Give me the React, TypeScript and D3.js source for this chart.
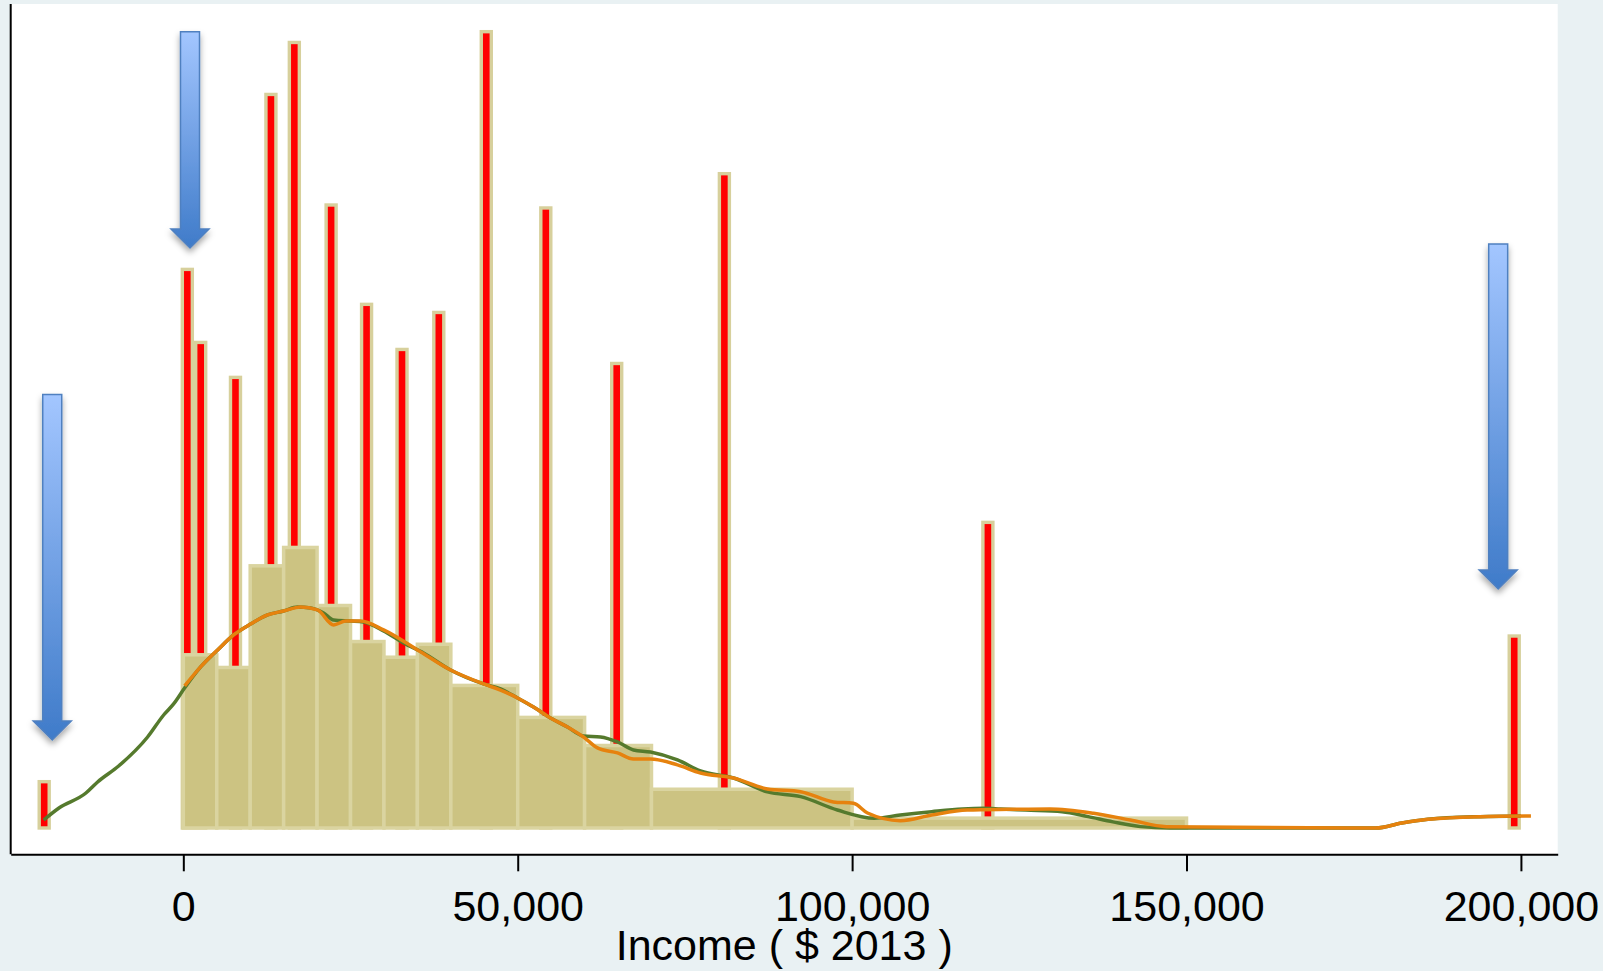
import React, { useRef, useEffect } from 'react';
import * as d3 from 'd3';

// histogram of positive incomes (bin edges in $, density x 1e-5)
const histBinEdges = [0, 5000, 10000, 15000, 20000, 25000, 30000, 35000, 40000, 50000, 60000, 70000, 100000, 150000];
const histDensity = [1.283, 1.189, 1.942, 2.078, 1.648, 1.381, 1.265, 1.361, 1.056, 0.819, 0.611, 0.287, 0.073];

// heaping points (spikes)
const spikeIncome = [-20800, 600, 2600, 7800, 13100, 16600, 22100, 27400, 32700, 38200, 45300, 54200, 64800, 80900, 120300, 199000];
const spikeHeight = [0.343, 4.138, 3.597, 3.338, 5.434, 5.819, 4.615, 3.879, 3.545, 3.819, 5.899, 4.593, 3.441, 4.847, 2.264, 1.422];

// kernel density, all incomes (green)
const allIncome = [-20880, -18590, -14560, -12810, -9670, -5340, -2940, -1450, 190, 2590, 5130, 7520, 10060, 12600, 14990, 17080, 19030, 20970, 22470, 25000, 26940, 29940, 32930, 35920, 39960, 44890, 47430, 49970, 52360, 54900, 57440, 59840, 62380, 64920, 67310, 69850, 73890, 77330, 82260, 87340, 92300, 97800, 103300, 107200, 111900, 116500, 119700, 122200, 126000, 131400, 135300, 139000, 143100, 147500, 178300, 182200, 186100, 193900, 200000];
const allDensity = [0.059, 0.148, 0.259, 0.341, 0.459, 0.674, 0.837, 0.919, 1.037, 1.193, 1.319, 1.430, 1.511, 1.578, 1.607, 1.637, 1.630, 1.593, 1.541, 1.533, 1.526, 1.459, 1.370, 1.296, 1.170, 1.067, 1.030, 0.963, 0.896, 0.815, 0.748, 0.681, 0.674, 0.637, 0.578, 0.563, 0.504, 0.422, 0.370, 0.267, 0.232, 0.133, 0.072, 0.096, 0.121, 0.141, 0.146, 0.141, 0.133, 0.121, 0.084, 0.045, 0.010, 0, 0, 0.037, 0.064, 0.084, 0.089];

// kernel density, positive incomes (orange)
const posIncome = [200, 2590, 5130, 7520, 10060, 12600, 14990, 17530, 20070, 22470, 24260, 26500, 29940, 35020, 39960, 44890, 47430, 49970, 52360, 54900, 57440, 59840, 61930, 64920, 67310, 69850, 73890, 77330, 82260, 87340, 92300, 97200, 100200, 102300, 107200, 111900, 117200, 123600, 129600, 136100, 141600, 147000, 178300, 182200, 186100, 193900, 201500];
const posDensity = [1.052, 1.193, 1.319, 1.430, 1.511, 1.578, 1.607, 1.637, 1.615, 1.504, 1.533, 1.533, 1.467, 1.319, 1.170, 1.067, 1.022, 0.963, 0.896, 0.815, 0.748, 0.674, 0.593, 0.556, 0.511, 0.511, 0.467, 0.407, 0.370, 0.289, 0.269, 0.193, 0.183, 0.111, 0.054, 0.096, 0.133, 0.138, 0.141, 0.109, 0.059, 0.010, 0, 0.037, 0.064, 0.084, 0.089];

const xTicks = [0, 50000, 100000, 150000, 200000];
const xTitle = 'Income ( $ 2013 )';

// annotation arrows: income position, top and tip (density units)
const arrowIncome = [-19600, 1000, 196600];
const arrowTop = [3.211, 5.899, 4.326];
const arrowTip = [0.652, 4.296, 1.770];

const W = 1617;
const H = 971;

const Chart: React.FC = () => {
    const svgRef = useRef<SVGSVGElement | null>(null);

    useEffect(() => {
        if (!svgRef.current) return;
        const svg = d3.select(svgRef.current);
        svg.selectAll("*").remove();

        const plot = { left: 10.7, right: 1557.7, top: 4, bottom: 854.3 };

        const x = d3.scaleLinear().domain([-25810, 205500]).range([plot.left, plot.right]);
        const y = d3.scaleLinear().domain([-0.195, 6.104]).range([plot.bottom, plot.top]);

        const defs = svg.append("defs");
        const grad = defs.append("linearGradient")
            .attr("id", "arrowGrad")
            .attr("x1", 0).attr("y1", 0).attr("x2", 0).attr("y2", 1);
        grad.append("stop").attr("offset", "0%").attr("stop-color", "#a3c6ff");
        grad.append("stop").attr("offset", "100%").attr("stop-color", "#3f7bc9");
        const shadow = defs.append("filter").attr("id", "arrowShadow")
            .attr("x", "-50%").attr("y", "-10%").attr("width", "200%").attr("height", "130%");
        shadow.append("feDropShadow")
            .attr("dx", 0).attr("dy", 4).attr("stdDeviation", 3)
            .attr("flood-color", "#000").attr("flood-opacity", 0.35);

        // background
        svg.append("rect").attr("x", 0).attr("y", 0).attr("width", 1603).attr("height", H).attr("fill", "#e9f1f3");
        svg.append("rect")
            .attr("x", plot.left).attr("y", plot.top)
            .attr("width", plot.right - plot.left).attr("height", plot.bottom - plot.top)
            .attr("fill", "#ffffff");

        // spikes (under the histogram)
        svg.append("g").selectAll("rect")
            .data(spikeIncome.map((v, i) => ({ v, h: spikeHeight[i] })))
            .enter().append("rect")
            .attr("x", d => x(d.v) - 5)
            .attr("width", 10)
            .attr("y", d => y(d.h))
            .attr("height", d => y(0) - y(d.h))
            .attr("fill", "#ff0000")
            .attr("stroke", "#d7d09c")
            .attr("stroke-width", 3.4);

        // histogram
        svg.append("g").selectAll("rect")
            .data(histDensity.map((h, i) => ({ x0: histBinEdges[i], x1: histBinEdges[i + 1], h })))
            .enter().append("rect")
            .attr("x", d => x(d.x0))
            .attr("width", d => x(d.x1) - x(d.x0))
            .attr("y", d => y(d.h))
            .attr("height", d => y(0) - y(d.h))
            .attr("fill", "#ccc382")
            .attr("stroke", "#dad4a0")
            .attr("stroke-width", 3.5);

        const line = d3.line<[number, number]>()
            .x(d => x(d[0]))
            .y(d => y(d[1]))
            .curve(d3.curveMonotoneX);

        svg.append("path")
            .datum(allIncome.map((v, i) => [v, allDensity[i]] as [number, number]))
            .attr("d", line)
            .attr("fill", "none")
            .attr("stroke", "#557a2d")
            .attr("stroke-width", 3.5)
            .attr("stroke-linejoin", "round");

        svg.append("path")
            .datum(posIncome.map((v, i) => [v, posDensity[i]] as [number, number]))
            .attr("d", line)
            .attr("fill", "none")
            .attr("stroke", "#e6820e")
            .attr("stroke-width", 3.5)
            .attr("stroke-linejoin", "round");

        // arrows
        const shaftHalf = 9.5;
        const headHalf = 19;
        const headLen = 19;
        svg.append("g").selectAll("path")
            .data(arrowIncome.map((v, i) => ({ v, top: arrowTop[i], tip: arrowTip[i] })))
            .enter().append("path")
            .attr("d", d => {
                const cx = x(d.v);
                const t = y(d.top);
                const tip = y(d.tip);
                const hs = tip - headLen;
                return `M${cx - shaftHalf},${t} H${cx + shaftHalf} V${hs} H${cx + headHalf} L${cx},${tip} L${cx - headHalf},${hs} H${cx - shaftHalf} Z`;
            })
            .attr("fill", "url(#arrowGrad)")
            .attr("stroke", "#4f80c0")
            .attr("stroke-width", 1.5)
            .attr("filter", "url(#arrowShadow)");

        // axes
        svg.append("line")
            .attr("x1", plot.left).attr("x2", plot.left)
            .attr("y1", plot.top).attr("y2", plot.bottom)
            .attr("stroke", "#000").attr("stroke-width", 2);

        const xAxis = svg.append("g")
            .attr("transform", `translate(0,${plot.bottom})`)
            .call(d3.axisBottom(x).tickValues(xTicks).tickSize(17).tickSizeOuter(0).tickPadding(19).tickFormat(d3.format(",")));
        xAxis.selectAll("path, line").attr("stroke", "#000").attr("stroke-width", 2);
        xAxis.selectAll("text")
            .attr("fill", "#000")
            .style("font-family", "'Liberation Sans', Arial, sans-serif")
            .style("font-size", "43px");

        svg.append("text")
            .attr("x", (plot.left + plot.right) / 2)
            .attr("y", 960)
            .attr("text-anchor", "middle")
            .style("font-family", "'Liberation Sans', Arial, sans-serif")
            .style("font-size", "43px")
            .attr("fill", "#000")
            .text(xTitle);
    }, []);

    return (
        <svg ref={svgRef} width={W} height={H} style={{ position: 'absolute', left: 0, top: 0, background: '#fff' }}></svg>
    );
};

export default function App() {
    return <Chart />;
}
